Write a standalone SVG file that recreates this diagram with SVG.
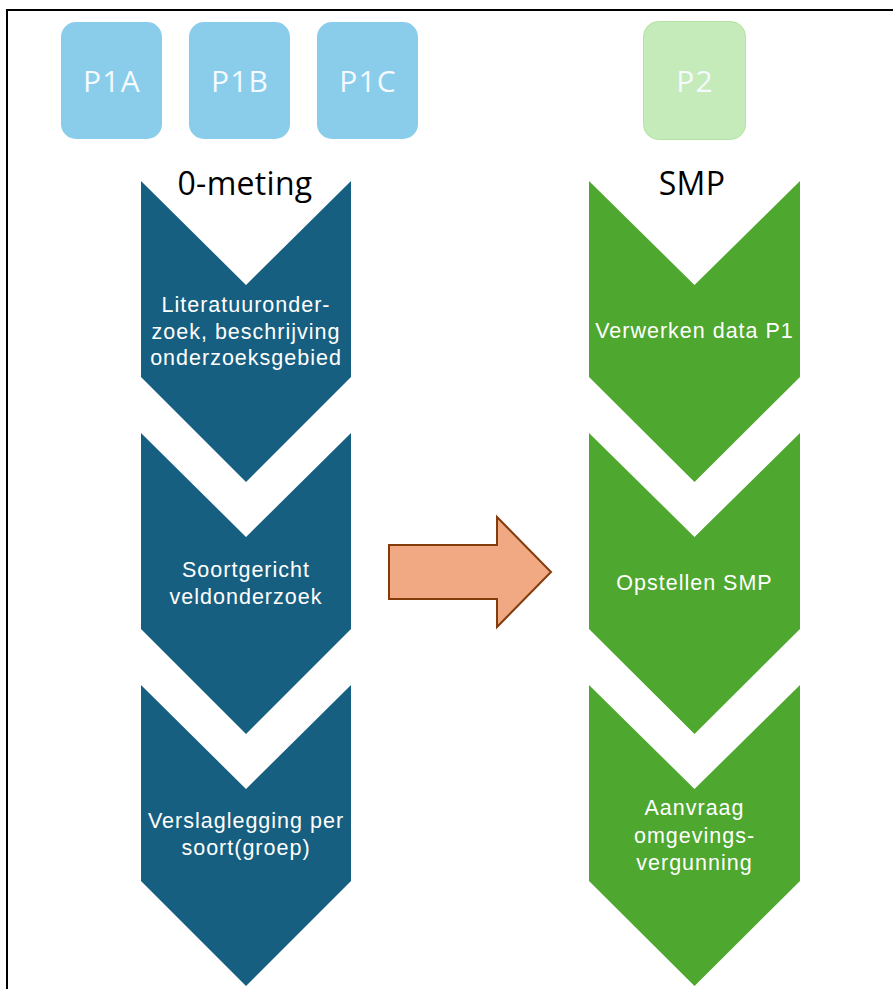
<svg xmlns="http://www.w3.org/2000/svg" width="893" height="989" viewBox="0 0 893 989">
  <style>
    .lbl { font-family: "Liberation Sans", Arial, sans-serif; fill: #ffffff; font-size: 21.5px; text-anchor: middle; letter-spacing: 1px; }
    .hdr { font-family: "Open Sans", "Liberation Sans", sans-serif; fill: #000000; font-size: 32px; text-anchor: middle; letter-spacing: 0.3px; }
    .box { font-family: "Open Sans", "Liberation Sans", sans-serif; fill: #F4FAFD; font-size: 30px; text-anchor: middle; letter-spacing: 1.2px; }
    .blue { fill: #175F80; }
    .green { fill: #4EA72E; }
    .p1 { fill: #89CDEA; }
    .p2 { fill: #C5EBBA; stroke: #B4E2A3; stroke-width: 1; }
  </style>
  <rect x="0" y="0" width="893" height="989" fill="#ffffff"/>
  <rect x="7" y="10" width="900" height="1000" fill="none" stroke="#000000" stroke-width="2"/>

  <g id="P1A"><rect class="p1" x="61" y="22" width="101" height="117" rx="15"/><text class="box" x="112" y="91.5">P1A</text></g>
  <g id="P1B"><rect class="p1" x="189" y="22" width="101" height="117" rx="15"/><text class="box" x="240" y="91.5">P1B</text></g>
  <g id="P1C"><rect class="p1" x="317" y="22" width="101" height="117" rx="15"/><text class="box" x="368" y="91.5">P1C</text></g>
  <g id="P2"><rect class="p2" x="643.5" y="21.5" width="102" height="118" rx="15"/><text class="box" x="695" y="91.5">P2</text></g>

  <g id="hdr-left"><text class="hdr" x="245" y="195">0-meting</text></g>
  <g id="hdr-right"><text class="hdr" x="692" y="195">SMP</text></g>

  <g id="L1">
    <path class="blue" d="M141,181 L246,285 L351,181 L351,377 L246,482 L141,377 Z"/>
    <text class="lbl" x="246" y="312">Literatuuronder-</text>
    <text class="lbl" x="246" y="338.5">zoek, beschrijving</text>
    <text class="lbl" x="246" y="365">onderzoeksgebied</text>
  </g>
  <g id="L2">
    <path class="blue" d="M141,433 L246,537 L351,433 L351,629 L246,734 L141,629 Z"/>
    <text class="lbl" x="246" y="577">Soortgericht</text>
    <text class="lbl" x="246" y="604">veldonderzoek</text>
  </g>
  <g id="L3">
    <path class="blue" d="M141,685 L246,789 L351,685 L351,881 L246,986 L141,881 Z"/>
    <text class="lbl" x="246" y="828">Verslaglegging per</text>
    <text class="lbl" x="246" y="855">soort(groep)</text>
  </g>

  <g id="R1">
    <path class="green" d="M589,181 L694.5,285 L800,181 L800,377 L694.5,482 L589,377 Z"/>
    <text class="lbl" x="694.5" y="338">Verwerken data P1</text>
  </g>
  <g id="R2">
    <path class="green" d="M589,433 L694.5,537 L800,433 L800,629 L694.5,734 L589,629 Z"/>
    <text class="lbl" x="694.5" y="590">Opstellen SMP</text>
  </g>
  <g id="R3">
    <path class="green" d="M589,685 L694.5,789 L800,685 L800,881 L694.5,986 L589,881 Z"/>
    <text class="lbl" x="694.5" y="815">Aanvraag</text>
    <text class="lbl" x="694.5" y="842.5">omgevings-</text>
    <text class="lbl" x="694.5" y="870">vergunning</text>
  </g>

  <g id="connectors">
    <polygon points="389,545 497,545 497,517 551,572 497,627 497,599 389,599" fill="#F1A983" stroke="#843C0C" stroke-width="2" stroke-linejoin="miter"/>
  </g>
</svg>
